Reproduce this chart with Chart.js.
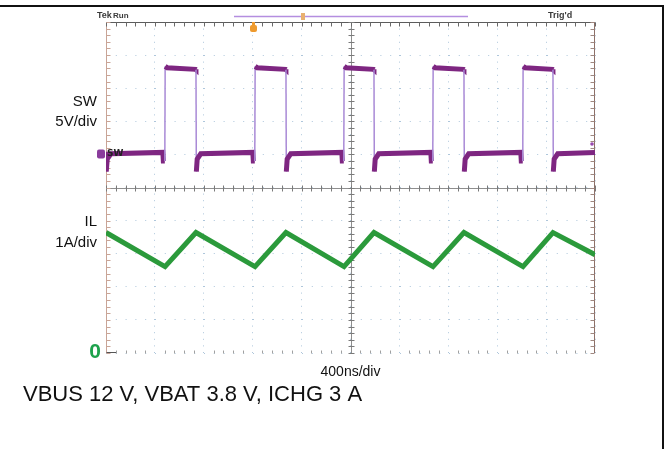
<!DOCTYPE html>
<html>
<head>
<meta charset="utf-8">
<script src="https://cdn.jsdelivr.net/npm/chart.js@4/dist/chart.umd.min.js"></script>
<style>
  html, body { margin: 0; padding: 0; background: #fff; }
  canvas { display: block; }
</style>
</head>
<body>
<canvas id="scope" width="669" height="449"></canvas>
<script>
// horizontal: time in ns, 10 div x 400 ns ; vertical: screen divisions 0..10
const timeRange = [0, 4000];
const divRange = [0, 10];

// SW node voltage (5 V/div, ground marker at 6 div)
const swTime = [0, 2, 10, 40,
  465, 469, 481, 484, 500, 733, 736, 739, 746, 775,
  1201, 1205, 1217, 1220, 1236, 1469, 1472, 1475, 1482, 1511,
  1929, 1933, 1945, 1948, 1964, 2189, 2192, 2195, 2202, 2231,
  2657, 2661, 2673, 2676, 2692, 2925, 2928, 2931, 2938, 2967,
  3393, 3397, 3409, 3412, 3428, 3653, 3656, 3659, 3666, 3695,
  4000];
const swVolt = [0.4, -2.6, -0.7, 0.1,
  0.3, -1.0, -1.0, 13.3, 13.1, 12.85, 12.8, -2.6, -0.7, 0.1,
  0.3, -1.0, -1.0, 13.3, 13.1, 12.85, 12.8, -2.6, -0.7, 0.1,
  0.3, -1.0, -1.0, 13.3, 13.1, 12.85, 12.8, -2.6, -0.7, 0.1,
  0.3, -1.0, -1.0, 13.3, 13.1, 12.85, 12.8, -2.6, -0.7, 0.1,
  0.3, -1.0, -1.0, 13.3, 13.1, 12.85, 12.8, -2.6, -0.7, 0.1,
  0.3];
const swVoltsPerDiv = 5;
const swGroundDiv = 6;

// inductor current (1 A/div, zero on the bottom line)
const ilTime = [0, 483, 736, 1219, 1472, 1947, 2192, 2675, 2928, 3411, 3656, 4000];
const ilAmp = [3.64, 2.61, 3.64, 2.61, 3.64, 2.61, 3.64, 2.61, 3.64, 2.61, 3.64, 2.97];
const ilAmpsPerDiv = 1;

const swLabel = ['SW', '5V/div'];
const ilLabel = ['IL', '1A/div'];
const timeLabel = '400ns/div';
const caption = 'VBUS 12 V, VBAT 3.8 V, ICHG 3 A';

const swPoints = swTime.map((t, i) => ({x: t, y: swGroundDiv + swVolt[i] / swVoltsPerDiv}));
const ilPoints = ilTime.map((t, i) => ({x: t, y: ilAmp[i] / ilAmpsPerDiv}));

function seg(ctx, x1, y1, x2, y2) {
  ctx.beginPath(); ctx.moveTo(x1, y1); ctx.lineTo(x2, y2); ctx.stroke();
}

// graticule centre lines, frame and minor ticks
const scopeFrame = {
  id: 'scopeFrame',
  beforeDatasetsDraw(chart) {
    const {ctx, chartArea: a, scales: {x, y}} = chart;
    const cx = Math.round(x.getPixelForValue(2000)) + 0.5;
    const cy = Math.round(y.getPixelForValue(5)) + 0.5;
    const L = Math.round(a.left) + 0.5, R = Math.round(a.right) - 0.5;
    const T = Math.round(a.top) + 0.5, B = Math.round(a.bottom) - 0.5;
    ctx.save();
    ctx.lineWidth = 1;
    ctx.strokeStyle = '#8e8e8e';
    seg(ctx, a.left, cy, a.right, cy);
    seg(ctx, cx, a.top, cx, a.bottom);
    ctx.strokeStyle = '#5c5c5c';
    seg(ctx, a.left, T, a.right, T);
    ctx.strokeStyle = '#c9a496';
    seg(ctx, L, a.top, L, a.bottom);
    ctx.strokeStyle = '#8d7068';
    seg(ctx, R, a.top, R, a.bottom);
    ctx.strokeStyle = '#555';
    seg(ctx, L, B, L + 10, B);
    for (let i = 0; i <= 50; i++) {
      const px = Math.round(x.getPixelForValue(i * 80)) + 0.5;
      ctx.strokeStyle = '#7a7a7a';
      seg(ctx, px, cy - 3, px, cy + 3);
      ctx.strokeStyle = '#6a6a6a';
      seg(ctx, px, T, px, T + 4);
      if (i % 5 !== 0) {
        ctx.strokeStyle = '#a0a0a0';
        seg(ctx, px, B - 2, px, B + 1);
      }
    }
    for (let i = 0; i <= 50; i++) {
      const py = Math.round(y.getPixelForValue(i / 5)) + 0.5;
      ctx.strokeStyle = '#7a7a7a';
      seg(ctx, cx - 3, py, cx + 3, py);
      ctx.strokeStyle = '#c9a496';
      seg(ctx, L, py, L + 4, py);
      ctx.strokeStyle = '#a08880';
      seg(ctx, R - 4, py, R, py);
    }
    ctx.restore();
  },
  afterDraw(chart) {
    const {ctx, chartArea: a, scales: {x, y}} = chart;
    ctx.save();
    // outer figure border
    ctx.fillStyle = '#111';
    ctx.fillRect(0, 5, 664, 2);
    ctx.fillRect(662, 5, 2, 444);

    // scope status line
    ctx.textBaseline = 'middle';
    ctx.fillStyle = '#3a3a3a';
    ctx.textAlign = 'left';
    ctx.font = 'bold 9px "Liberation Sans", Arial, sans-serif';
    ctx.fillText('Tek', 97, 16);
    ctx.fillText("Trig'd", 548, 16);
    ctx.font = 'bold 8px "Liberation Sans", Arial, sans-serif';
    ctx.fillText('Run', 113, 16);
    ctx.strokeStyle = '#b48ee0';
    ctx.lineWidth = 1.5;
    seg(ctx, 234, 16.5, 468, 16.5);
    ctx.fillStyle = '#e8b070';
    ctx.fillRect(301, 13, 4, 7);
    ctx.fillStyle = '#ee9a2e';
    ctx.fillRect(252, 22, 3, 3);
    ctx.beginPath();
    ctx.roundRect(250, 25, 7, 7, 2);
    ctx.fill();

    // channel markers
    const gy = y.getPixelForValue(swGroundDiv);
    ctx.fillStyle = '#8a3c9c';
    ctx.beginPath();
    ctx.roundRect(97, gy - 5, 8, 9, 2);
    ctx.fill();
    ctx.fillStyle = '#222';
    ctx.font = 'bold 9px "DejaVu Sans"';
    ctx.fillText('SW', 107, gy - 1);
    ctx.fillStyle = '#9a4ab0';
    ctx.beginPath();
    ctx.arc(592, 144, 1.8, 0, Math.PI * 2);
    ctx.fill();

    // channel labels
    ctx.fillStyle = '#111';
    ctx.font = '15px "Liberation Sans", Arial, sans-serif';
    ctx.textAlign = 'right';
    ctx.fillText(swLabel[0], 97, 102);
    ctx.fillText(swLabel[1], 97, 121.5);
    ctx.fillText(ilLabel[0], 97, 222);
    ctx.fillText(ilLabel[1], 97, 243);

    ctx.fillStyle = '#1ea24c';
    ctx.font = 'bold 21px "Liberation Sans", Arial, sans-serif';
    ctx.fillText('0', 101, y.getPixelForValue(0) - 1);

    ctx.fillStyle = '#111';
    ctx.textAlign = 'center';
    ctx.font = '14px "Liberation Sans", Arial, sans-serif';
    ctx.fillText(timeLabel, x.getPixelForValue(2000), 372);

    ctx.textAlign = 'left';
    ctx.font = '22px "Liberation Sans", Arial, sans-serif';
    ctx.fillText(caption, 23, 395);
    ctx.restore();
  }
};

const isEdge = c => Math.abs(c.p1.parsed.y - c.p0.parsed.y) > 1;

new Chart(document.getElementById('scope'), {
  type: 'line',
  data: {
    datasets: [
      {
        label: 'SW',
        data: swPoints,
        borderColor: '#7e2681',
        borderWidth: 5,
        pointRadius: 0,
        tension: 0,
        segment: {
          borderColor: c => isEdge(c) ? '#a98ad6' : '#7e2681',
          borderWidth: c => isEdge(c) ? 1.5 : 5
        }
      },
      {
        label: 'IL',
        data: ilPoints,
        borderColor: '#2b9a3b',
        borderWidth: 5,
        borderJoinStyle: 'miter',
        pointRadius: 0,
        tension: 0
      }
    ]
  },
  options: {
    responsive: false,
    animation: false,
    devicePixelRatio: 1,
    layout: { padding: { left: 106, right: 74, top: 22, bottom: 96 } },
    plugins: { legend: { display: false }, tooltip: { enabled: false } },
    scales: {
      x: {
        type: 'linear',
        min: timeRange[0],
        max: timeRange[1],
        ticks: { display: false, stepSize: 400 },
        grid: { color: 'rgba(120,160,195,0.6)', drawTicks: false },
        border: { display: false, dash: [1, 5.6] }
      },
      y: {
        type: 'linear',
        min: divRange[0],
        max: divRange[1],
        ticks: { display: false, stepSize: 1 },
        grid: { color: 'rgba(120,160,195,0.6)', drawTicks: false },
        border: { display: false, dash: [1, 8.8] }
      }
    }
  },
  plugins: [scopeFrame]
});
</script>
</body>
</html>
